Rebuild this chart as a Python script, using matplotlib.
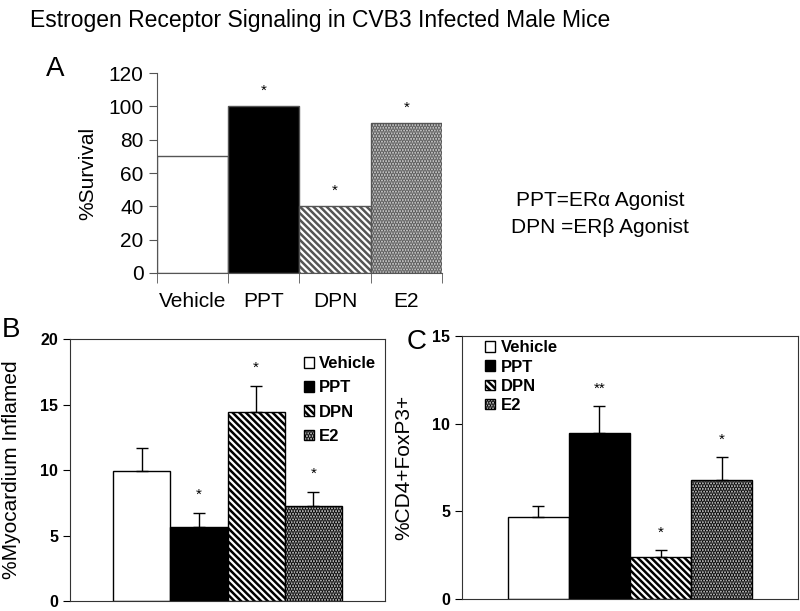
import matplotlib.pyplot as plt
import numpy as np
from matplotlib.patches import Patch

plt.rcParams['font.family'] = ['Liberation Sans', 'DejaVu Sans']
plt.rcParams['hatch.linewidth'] = 1.8

groups = ['Vehicle', 'PPT', 'DPN', 'E2']
survival = [70, 100, 40, 90]
survival_star = ['', '*', '*', '*']

inflamed = [9.9, 5.7, 14.4, 7.3]
inflamed_err = [1.8, 1.0, 2.0, 1.0]
inflamed_star = ['', '*', '*', '*']

treg = [4.7, 9.5, 2.4, 6.8]
treg_err = [0.6, 1.5, 0.4, 1.3]
treg_star = ['', '**', '*', '*']

colors = ['white', 'black', 'white', '#d8d8d8']
hatches = [None, None, '\\\\\\\\\\', '......']

fig = plt.figure(figsize=(8, 6.11), dpi=100)
fig.text(0.038, 0.966, 'Estrogen Receptor Signaling in CVB3 Infected Male Mice',
         fontsize=16.5, va='center', ha='left')

# panel A
axA = fig.add_axes([0.196, 0.5532, 0.3565, 0.3273])
x = np.arange(len(groups))
barsA = axA.bar(x, survival, width=1.0, color=colors, edgecolor='#555555', linewidth=1.0)
for b, h in zip(barsA, hatches):
    if h:
        b.set_hatch(h)
for xi, v, s in zip(x, survival, survival_star):
    if s:
        axA.text(xi, v + 5, s, ha='center', va='bottom', fontsize=11)
axA.set_xlim(-0.5, 3.5)
axA.set_ylim(0, 120)
axA.set_yticks(range(0, 121, 20))
axA.set_xticks(x)
axA.set_xticklabels(groups)
axA.set_xticks(np.arange(-0.5, 4, 1), minor=True)
axA.tick_params(axis='x', which='major', length=0, pad=14, labelsize=15)
axA.tick_params(axis='x', which='minor', length=7, color='#555555')
axA.tick_params(axis='y', length=6, labelsize=15, color='#555555')
for s in ['top', 'right']:
    axA.spines[s].set_visible(False)
for s in ['left', 'bottom']:
    axA.spines[s].set_color('#555555')
axA.set_ylabel('%Survival', fontsize=15, labelpad=8)
fig.text(0.057, 0.887, 'A', fontsize=20, va='center')
fig.text(0.75, 0.672, 'PPT=ER\u03b1 Agonist', fontsize=15, ha='center', va='center')
fig.text(0.75, 0.627, 'DPN =ER\u03b2 Agonist', fontsize=15, ha='center', va='center')


def panel(ax, vals, errs, stars, ymax, step, ylabel, star_off, leg_anchor, spacing):
    xp = np.arange(len(groups))
    bars = ax.bar(xp, vals, width=1.0, color=colors, edgecolor='black', linewidth=1.0)
    for b, h in zip(bars, hatches):
        if h:
            b.set_hatch(h)
    ax.errorbar(xp, vals, yerr=[np.zeros(len(vals)), errs], fmt='none', ecolor='black',
                elinewidth=1.0, capsize=4, capthick=1.0)
    for xi, v, e, s in zip(xp, vals, errs, stars):
        if s:
            ax.text(xi, v + e + star_off, s, ha='center', va='center', fontsize=11)
    ax.set_xlim(-1.254, 4.254)
    ax.set_ylim(0, ymax)
    ax.set_yticks(np.arange(0, ymax + 0.1, step))
    ax.set_xticks([])
    ax.tick_params(axis='y', length=5, labelsize=11.5)
    for lab in ax.get_yticklabels():
        lab.set_fontweight('bold')
    for s in ax.spines.values():
        s.set_color('#333333')
    ax.set_ylabel(ylabel, fontsize=15, labelpad=14)
    handles = [Patch(facecolor=c, edgecolor='black', hatch=h, label=g)
               for c, h, g in zip(colors, hatches, groups)]
    ax.legend(handles=handles, loc='upper left', bbox_to_anchor=leg_anchor, frameon=False,
              prop={'weight': 'bold', 'size': 12}, handlelength=0.6, handleheight=0.6,
              handletextpad=0.3, labelspacing=spacing, borderaxespad=0)


axB = fig.add_axes([0.0875, 0.016, 0.394, 0.429])
panel(axB, inflamed, inflamed_err, inflamed_star, 20, 5, '%Myocardium Inflamed', 1.4,
      (0.72, 0.96), 0.55)
fig.text(0.002, 0.46, 'B', fontsize=20, va='center')

axC = fig.add_axes([0.5775, 0.0196, 0.42, 0.43])
panel(axC, treg, treg_err, treg_star, 15, 5, '%CD4+FoxP3+', 1.0,
      (0.05, 1.01), 0.25)
fig.text(0.508, 0.44, 'C', fontsize=20, va='center')

fig.savefig('out.png', dpi=100)
